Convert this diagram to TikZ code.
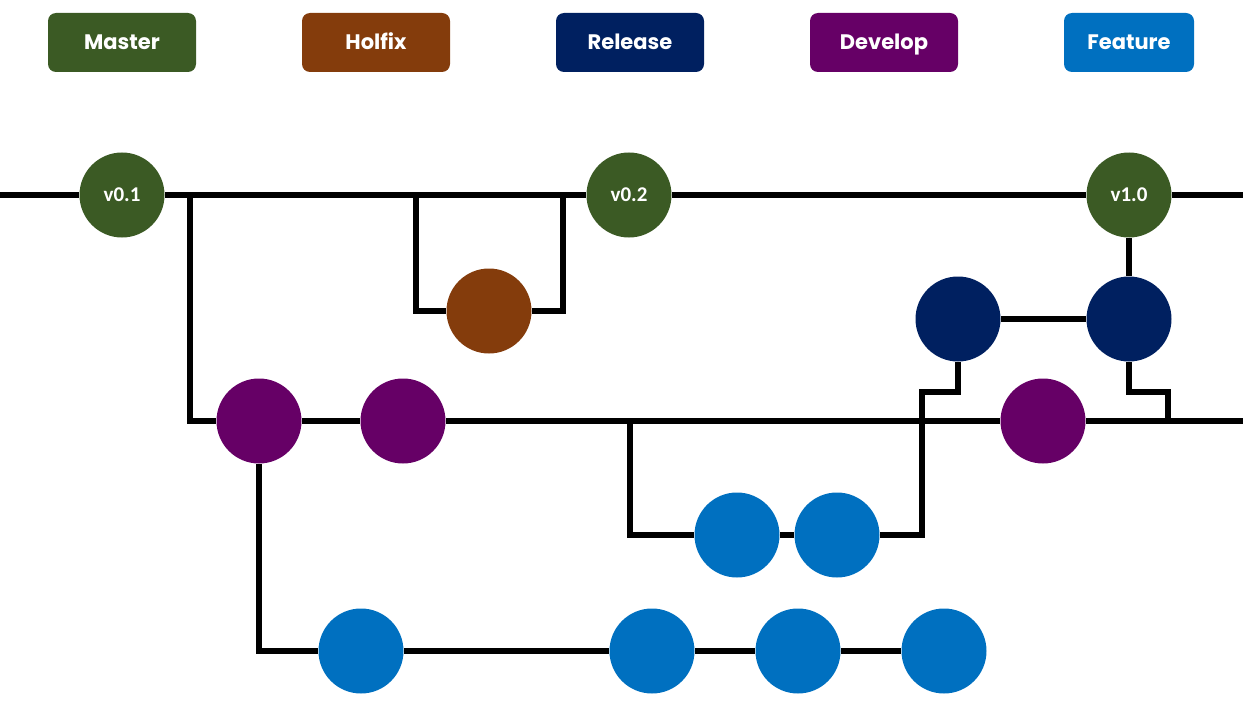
\documentclass[tikz,border=0pt]{standalone}
\usepackage{fontspec}
\newfontfamily\legendfont{Poppins}
\newfontfamily\tagfont{Carlito}
\definecolor{cmaster}{HTML}{3B5A24}
\definecolor{chotfix}{HTML}{843C0C}
\definecolor{crelease}{HTML}{002060}
\definecolor{cdevelop}{HTML}{660066}
\definecolor{cfeature}{HTML}{0070C0}
\tikzset{
  legendbox/.style={rounded corners=4pt, minimum width=74pt, minimum height=29.5pt, inner sep=0pt, text height=9.6pt, text depth=2.4pt, text=white, font=\legendfont\bfseries\fontsize{10.5}{12}\selectfont},
  commit/.style={circle, minimum size=42.5pt, inner sep=0pt, text=white, font=\tagfont\bfseries\fontsize{10.5}{12}\selectfont},
  branchline/.style={line width=3.4pt, line join=miter, draw=black}
}
\begin{document}
\begin{tikzpicture}[x=0.5pt,y=-0.5pt]
\useasboundingbox (0,0) rectangle (1243,717);
% legend
\node[legendbox, fill=cmaster] (lmaster) at (122,42.5) {Master};
\node[legendbox, fill=chotfix] (lhotfix) at (376,42.5) {Holfix};
\node[legendbox, fill=crelease] (lrelease) at (630,42.5) {Release};
\node[legendbox, fill=cdevelop] (ldevelop) at (884,42.5) {Develop};
\node[legendbox, fill=cfeature, minimum width=65pt] (lfeature) at (1129,42.5) {Feature};
% commits
\node[commit, fill=cmaster] (m1) at (122,195) {v0.1};
\node[commit, fill=cmaster] (m2) at (629,195) {v0.2};
\node[commit, fill=cmaster] (m3) at (1129,195) {v1.0};
\node[commit, fill=chotfix] (hf) at (489,311) {};
\node[commit, fill=crelease] (r1) at (958,319) {};
\node[commit, fill=crelease] (r2) at (1129,319) {};
\node[commit, fill=cdevelop] (d1) at (259,421) {};
\node[commit, fill=cdevelop] (d2) at (403,421) {};
\node[commit, fill=cdevelop] (d3) at (1043,421) {};
\node[commit, fill=cfeature] (f11) at (737,535) {};
\node[commit, fill=cfeature] (f12) at (837,535) {};
\node[commit, fill=cfeature] (f21) at (361,651) {};
\node[commit, fill=cfeature] (f22) at (652,651) {};
\node[commit, fill=cfeature] (f23) at (798,651) {};
\node[commit, fill=cfeature] (f24) at (944,651) {};
% coordinates
\coordinate (mstart) at (0,195);
\coordinate (mend) at (1243,195);
\coordinate (b1) at (190,195);
\coordinate (h1a) at (416,195);
\coordinate (h1b) at (563,195);
\coordinate (dend) at (1243,421);
\coordinate (fb) at (630,421);
\coordinate (j1) at (922,392);
\coordinate (j2) at (1168,392);
\coordinate (j3) at (1168,421);
% connectors
\draw[branchline] (mstart) -- (m1) -- (m2) -- (m3) -- (mend);
\draw[branchline] (b1) |- (d1);
\draw[branchline] (d1) -- (d2) -- (d3) -- (dend);
\draw[branchline] (h1a) |- (hf) -| (h1b);
\draw[branchline] (d1) |- (f21);
\draw[branchline] (f21) -- (f22) -- (f23) -- (f24);
\draw[branchline] (fb) |- (f11);
\draw[branchline] (f11) -- (f12);
\draw[branchline] (f12) -| (j1) -| (r1);
\draw[branchline] (r1) -- (r2);
\draw[branchline] (m3) -- (r2);
\draw[branchline] (r2) |- (j2) -- (j3);
\end{tikzpicture}
\end{document}
